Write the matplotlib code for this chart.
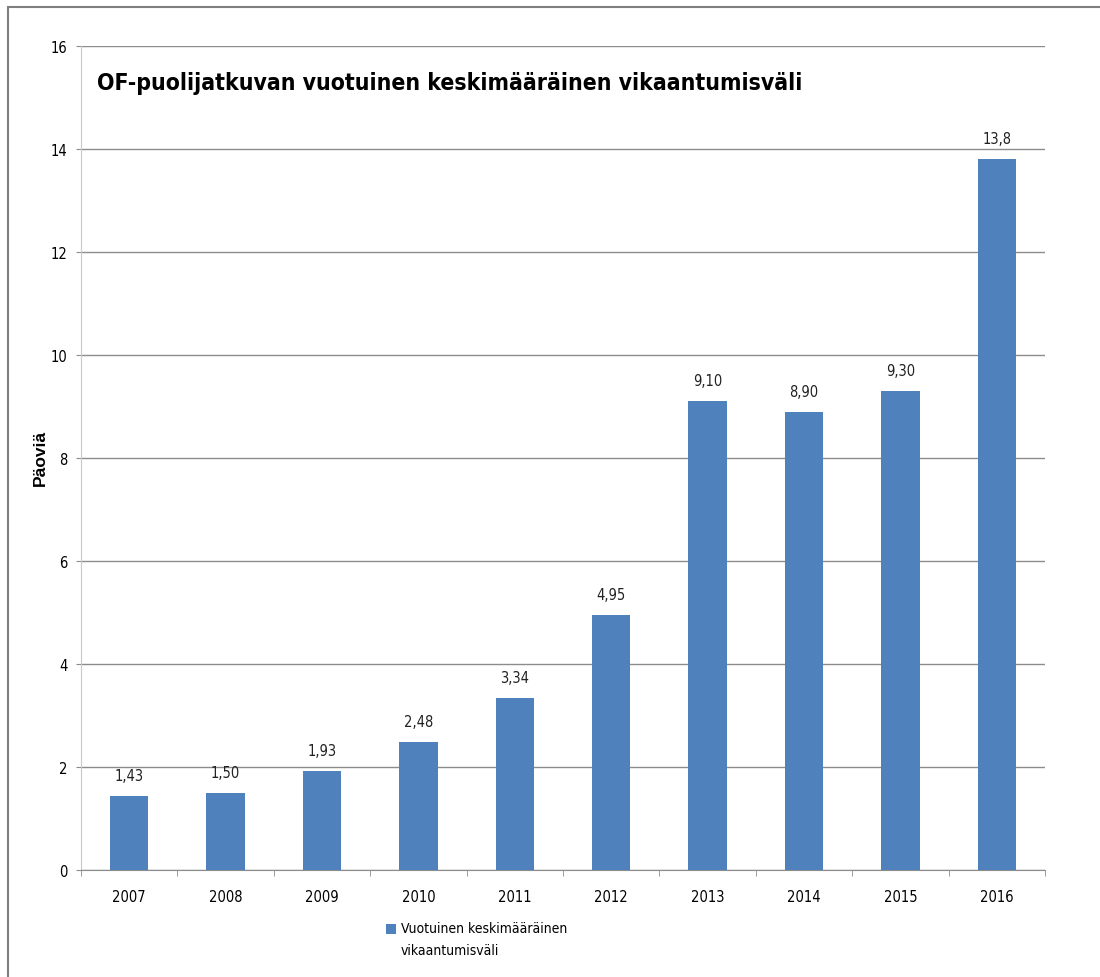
import matplotlib.pyplot as plt
from matplotlib.patches import Rectangle
from matplotlib.legend_handler import HandlerPatch

plt.rcParams['font.family'] = ['DejaVu Sans']
plt.rcParams['font.stretch'] = 'condensed'

vuodet = ["2007", "2008", "2009", "2010", "2011", "2012", "2013", "2014", "2015", "2016"]
arvot = [1.43, 1.50, 1.93, 2.48, 3.34, 4.95, 9.10, 8.90, 9.30, 13.8]
tekstit = ["1,43", "1,50", "1,93", "2,48", "3,34", "4,95", "9,10", "8,90", "9,30", "13,8"]
selite = "Vuotuinen keskimääräinen\nvikaantumisväli"

sininen = "#4F81BD"
harmaa = "#8C8C8C"

fig = plt.figure(figsize=(11, 9.78), dpi=100)
ax = fig.add_axes([81 / 1100, 1 - 871 / 978, (1045 - 81) / 1100, (871 - 47) / 978])

x = range(len(vuodet))
palkit = ax.bar(x, arvot, width=0.4, color=sininen, zorder=3)
for i, v in enumerate(arvot):
    ax.text(i, v + 0.25, tekstit[i], ha="center", va="bottom", fontsize=10.5, color="#222222")

ax.set_xlim(-0.5, len(vuodet) - 0.5)
ax.set_ylim(0, 16)
ax.set_yticks(range(0, 17, 2))
ax.yaxis.grid(True, color=harmaa, linewidth=1)
ax.set_axisbelow(True)

ax.set_xticks(x)
ax.set_xticklabels(vuodet, fontsize=10.5)
ax.set_xticks([i + 0.5 for i in range(-1, len(vuodet))], minor=True)
ax.tick_params(axis="x", which="major", length=0, pad=14)
ax.tick_params(axis="x", which="minor", length=4, color=harmaa)
ax.tick_params(axis="y", length=3.6, color=harmaa, labelsize=10.5, pad=6)

for s in ["top", "right"]:
    ax.spines[s].set_visible(False)
ax.spines["left"].set_color("#C8C8C8")
ax.spines["bottom"].set_color(harmaa)

ax.set_ylabel("Päoviä", fontsize=12.5, fontweight="bold", family="Liberation Sans", stretch="normal")
ax.yaxis.set_label_coords(-33 / 964, 0.501)

ax.text(16 / 964, (871 - 90) / 824, "OF-puolijatkuvan vuotuinen keskimääräinen vikaantumisväli",
        transform=ax.transAxes, fontsize=16.5, fontweight="bold", fontstretch="condensed",
        va="baseline", ha="left")


# neliö ensimmäisen rivin kohdalle
def ylos(legend, orig_handle, xdescent, ydescent, width, height, fontsize):
    return Rectangle((-xdescent, -ydescent + 8), width, height)


leg = ax.legend([palkit.patches[0]], [selite], loc="upper left",
                bbox_to_anchor=(305 / 964, -51 / 824), frameon=False,
                fontsize=10, handlelength=0.75, handleheight=0.75, handletextpad=0.3,
                borderaxespad=0, borderpad=0,
                handler_map={Rectangle: HandlerPatch(patch_func=ylos)})
for t in leg.get_texts():
    t.set_linespacing(1.75)

fig.patches.append(Rectangle((8 / 1100, -0.1), 1.2, 1 - 8 / 978 + 0.1, transform=fig.transFigure,
                             fill=False, edgecolor="#7F7F7F", linewidth=1.5))

fig.savefig("out.png", dpi=100)
